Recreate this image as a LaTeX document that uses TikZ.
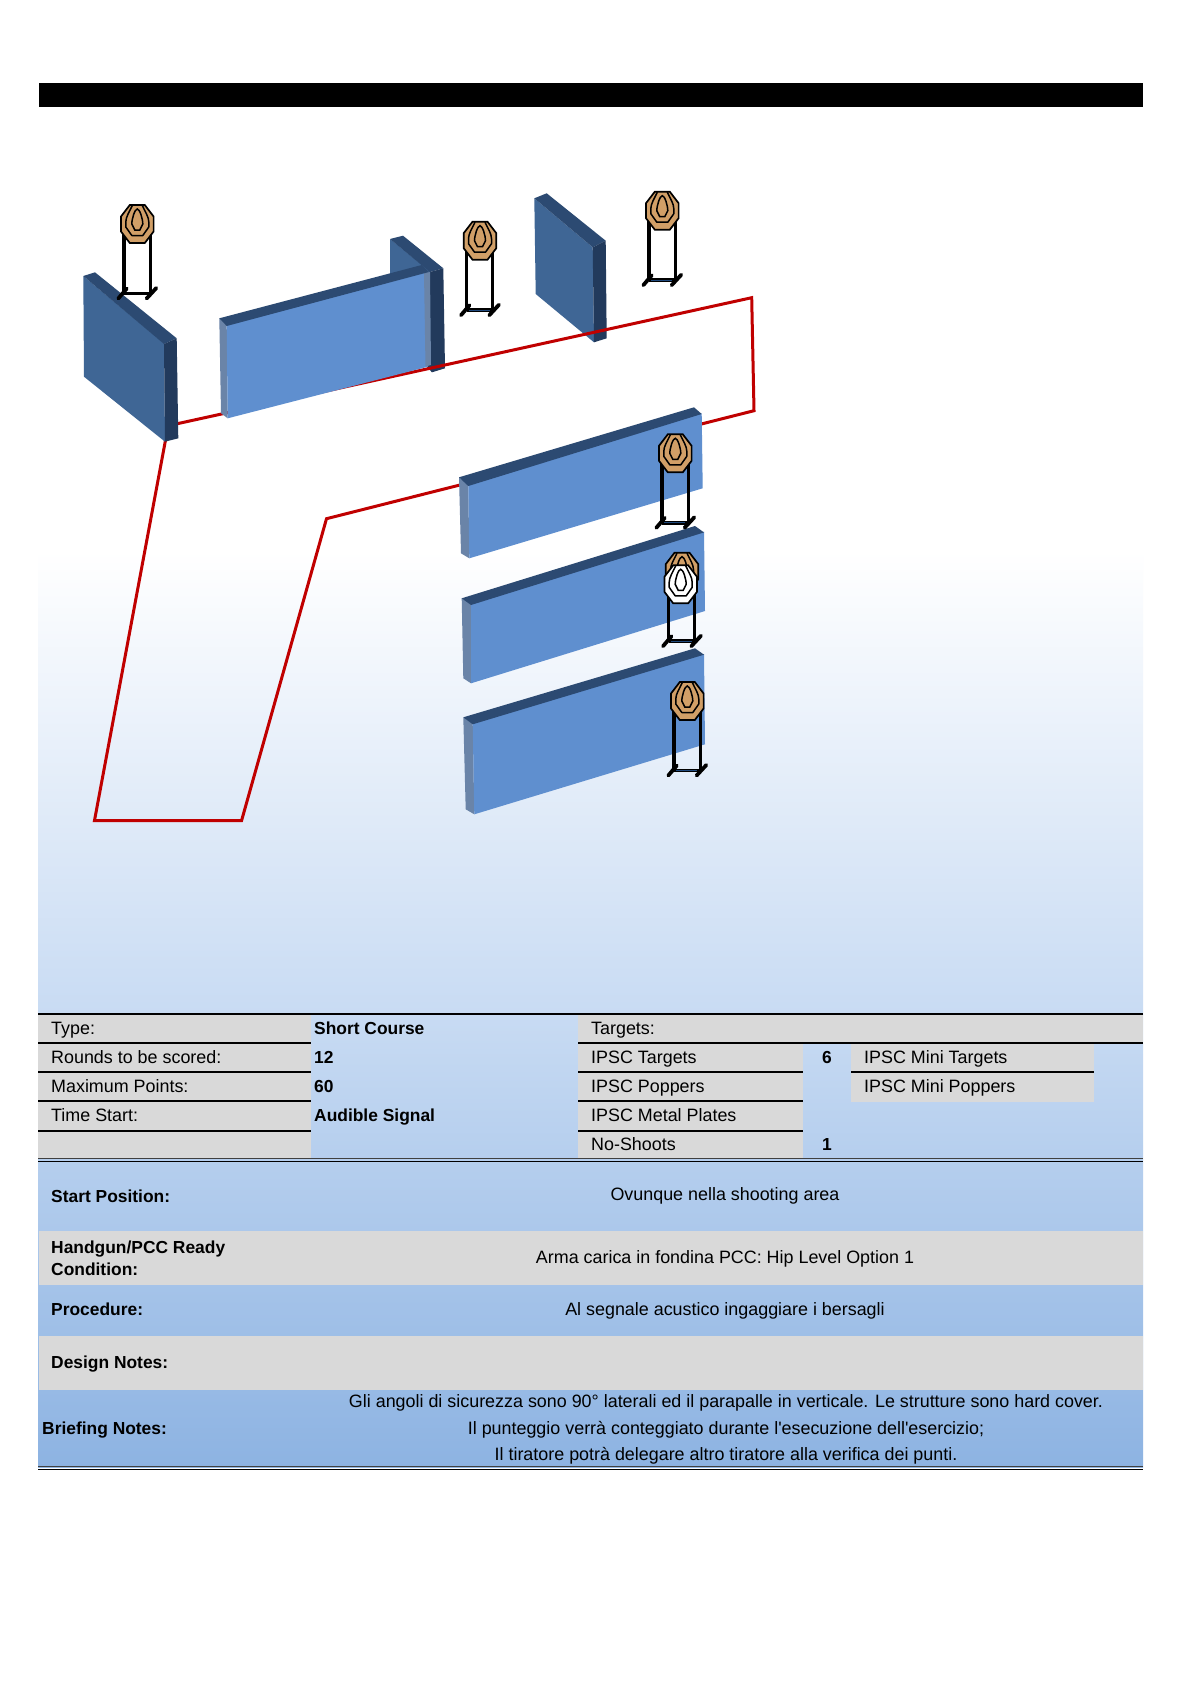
\documentclass[tikz,border=0pt]{standalone}
\usepackage{fontspec}
\setmainfont{Liberation Sans}
\definecolor{gradmid}{HTML}{C8DBF3}
\definecolor{gradend}{HTML}{8DB3E2}
\definecolor{rowgrey}{HTML}{D9D9D9}
\definecolor{faceL}{HTML}{5F8FCF}
\definecolor{faceD}{HTML}{3F6695}
\definecolor{wtop}{HTML}{2C4A72}
\definecolor{wside}{HTML}{223A5C}
\definecolor{wleft}{HTML}{6A84A8}
\definecolor{tbrown}{HTML}{D19F67}
\definecolor{redline}{HTML}{C00000}
\definecolor{barblue}{HTML}{1F497D}
\tikzset{
  x=1pt,y=-1pt,
  lbl/.style={anchor=base west,inner sep=0pt,font=\fontsize{17.9}{20}\selectfont},
  lblb/.style={lbl,font=\fontsize{17.4}{20}\selectfont\bfseries},
  ctr/.style={anchor=base,inner sep=0pt,font=\fontsize{17.9}{20}\selectfont},
  ctrb/.style={ctr,font=\fontsize{17.4}{20}\selectfont\bfseries},
  rule/.style={draw=black,line width=2pt},
  redpath/.style={draw=redline,line width=3pt,line join=miter},
  pics/head/.style={code={
    \draw[fill=#1,draw=black,line width=1.7pt,line join=miter]
      (-7.5,-19)--(7.5,-19)--(16.3,-7.5)--(16.3,7.5)--(7.5,19)--(-7.5,19)--(-16.3,7.5)--(-16.3,-7.5)--cycle;
    \draw[black,line width=1.5pt,line join=round]
      (-5,-18.5) .. controls (-8,-12) and (-11.5,-7) .. (-11.5,-2) -- (-11.5,3) -- (-5.5,11.5) -- (5.5,11.5) -- (11.5,3) -- (11.5,-2) .. controls (11.5,-7) and (8,-12) .. (5,-18.5);
    \draw[black,line width=1.5pt]
      (0,-15) .. controls (-2.5,-15) and (-5.5,-5) .. (-5.5,0) -- (-2.5,6) -- (2.5,6) -- (5.5,0) .. controls (5.5,-5) and (2.5,-15) .. (0,-15) -- cycle;
  }},
  pics/stand/.style={code={
    \draw[black,line width=3.2pt] (-13.3,5) -- (-13.3,70);
    \draw[black,line width=3.2pt] (12.8,5) -- (12.8,70);
    \draw[black,line width=3.6pt] (-13.3,69.5) -- (12.8,69.5);
    \draw[#1,line width=0.7pt] (-11,69.5) -- (10,69.5);
    \draw[black,line width=3.8pt,line cap=round] (-19,74.5) -- (-10.5,64.5);
    \draw[black,line width=3.8pt,line cap=round] (9.3,74.5) -- (19,64);
  }}
}
\begin{document}
\begin{tikzpicture}
\useasboundingbox (0,0) rectangle (1190,1684);
\fill[white] (0,0) rectangle (1190,1684);
% header bar
\fill[black] (39,83) rectangle (1143,106.5);
% background gradient
\shade[top color=white,bottom color=gradmid,shading angle=0] (38,550) rectangle (1143,1014);
\shade[top color=gradmid,bottom color=gradend,shading angle=0] (38,1014) rectangle (1143,1467);

% walls behind the red line
\fill[faceD] (390,239) -- (431,272) -- (431,295) -- (390,305) -- cycle;
\fill[wtop] (390,239) -- (403,235.7) -- (443.3,268.3) -- (430,272) -- cycle;
\fill[wside] (430,272) -- (443.3,268.3) -- (445,368.3) -- (432,372.3) -- (426,366) -- (426,272) -- cycle;

\fill[faceD] (534.3,198.3) -- (592.7,247.3) -- (594,342.3) -- (535.7,294) -- cycle;
\fill[wtop] (534.3,198.3) -- (546.7,193.3) -- (605.7,240.7) -- (592.7,247.3) -- cycle;
\fill[wside] (592.7,247.3) -- (605.7,240.7) -- (606.7,338.3) -- (594,342.3) -- cycle;

% red outline
\path[redpath] (168.2,425.7) -- (751.7,297.7) -- (754,410.7) -- (326.5,518.7) -- (241.6,820.5) -- (94.5,820.5) -- cycle;

% wall A
\fill[faceD] (83.3,276) -- (164,343.3) -- (165,441.7) -- (84,376.7) -- cycle;
\fill[wtop] (83.3,276) -- (95,272.3) -- (176.7,338.3) -- (164,344) -- cycle;
\fill[wside] (164,344) -- (176.7,338.3) -- (178.3,438.3) -- (165,441.7) -- cycle;
% wall B
\fill[wleft] (219.3,318.3) -- (226.7,325) -- (227.7,418.3) -- (221,413.3) -- cycle;
\fill[faceL] (226.7,325) -- (426.7,271.7) -- (428,366.7) -- (227.7,418.3) -- cycle;
\fill[wleft] (424,272.5) -- (430,272) -- (431,365) -- (425.5,366.5) -- cycle;
\fill[wtop] (219.3,318.3) -- (421.7,265) -- (429,272) -- (226.7,326) -- cycle;
% wall E
\fill[wleft] (459,477.3) -- (468.3,485) -- (469.3,558.3) -- (461,553.3) -- cycle;
\fill[faceL] (468.3,485) -- (701.7,413.3) -- (702.7,488.3) -- (469.3,558.3) -- cycle;
\fill[wtop] (459,477.3) -- (694,407.3) -- (701.7,414) -- (468.3,486) -- cycle;
% wall F
\fill[wleft] (461.7,598.3) -- (471,604) -- (471,683.3) -- (463.3,678.3) -- cycle;
\fill[faceL] (471,604) -- (704,531.7) -- (705,611) -- (471,683.3) -- cycle;
\fill[wtop] (461.7,598.3) -- (695,526) -- (704,532.4) -- (471,605) -- cycle;
% wall G
\fill[wleft] (463.3,717.3) -- (472.7,723.3) -- (474.3,814.3) -- (465.7,809.3) -- cycle;
\fill[faceL] (472.7,723.3) -- (704,654) -- (705,744.3) -- (474.3,814.3) -- cycle;
\fill[wtop] (463.3,717.3) -- (695,648.3) -- (704,654.7) -- (472.7,724.3) -- cycle;

% targets
\pic at (137.3,224) {stand=black};
\pic at (137.3,224) {head=tbrown};
\pic at (480,240.7) {stand=barblue};
\pic at (480,240.7) {head=tbrown};
\pic at (662.3,210.7) {stand=barblue};
\pic at (662.3,210.7) {head=tbrown};
\pic at (675.3,453.3) {stand=barblue};
\pic at (675.3,453.3) {head=tbrown};
\pic at (682,571.7) {stand=barblue};
\pic at (682,571.7) {head=tbrown};
\pic at (680.7,584.3) {head=white};
\pic at (687.3,701) {stand=barblue};
\pic at (687.3,701) {head=tbrown};

% grey table cells
\fill[rowgrey] (38,1014) rectangle (310.5,1158);
\fill[rowgrey] (578,1014) rectangle (1143,1043);
\fill[rowgrey] (578,1043) rectangle (803,1158);
\fill[rowgrey] (851,1043) rectangle (1094,1102);
\fill[rowgrey] (39,1231) rectangle (1143,1285);
\fill[rowgrey] (39,1336) rectangle (1143,1390);

% rules
\draw[rule,line width=1.7pt] (38,1014) -- (1143,1014);
\draw[rule] (38,1043) -- (310.5,1043);
\draw[rule] (38,1072) -- (310.5,1072);
\draw[rule] (38,1101) -- (310.5,1101);
\draw[rule] (38,1131) -- (310.5,1131);
\draw[rule] (578,1043) -- (1143,1043);
\draw[rule] (578,1072) -- (803,1072);
\draw[rule] (578,1101) -- (803,1101);
\draw[rule] (578,1131) -- (803,1131);
\draw[rule] (851,1072) -- (1094,1072);
\draw[rule,line width=1.6pt,draw=black!75] (38,1158.5) -- (1143,1158.5);
\draw[rule,line width=1.8pt] (38,1161.5) -- (1143,1161.5);
\draw[rule,line width=1.6pt,draw=black!75] (38,1466.5) -- (1143,1466.5);
\draw[rule,line width=1.8pt] (38,1469.5) -- (1143,1469.5);

% table text
\node[lbl] (t1) at (51,1034) {Type:};
\node[lbl] (t2) at (51,1063) {Rounds to be scored:};
\node[lbl] (t3) at (51,1092) {Maximum Points:};
\node[lbl] (t4) at (51,1121) {Time Start:};
\node[lblb] (v1) at (314,1034) {Short Course};
\node[lblb] (v2) at (314,1063) {12};
\node[lblb] (v3) at (314,1092) {60};
\node[lblb] (v4) at (314,1121) {Audible Signal};
\node[lbl] (g0) at (591,1034) {Targets:};
\node[lbl] (g1) at (591,1063) {IPSC Targets};
\node[lbl] (g2) at (591,1092) {IPSC Poppers};
\node[lbl] (g3) at (591,1121) {IPSC Metal Plates};
\node[lbl] (g4) at (591,1150) {No-Shoots};
\node[ctrb] (n1) at (827,1063) {6};
\node[ctrb] (n2) at (827,1150) {1};
\node[lbl] (m1) at (864,1063) {IPSC Mini Targets};
\node[lbl] (m2) at (864,1092) {IPSC Mini Poppers};

\node[lblb] (s1) at (51,1202) {Start Position:};
\node[ctr] (s2) at (725,1200) {Ovunque nella shooting area};
\node[lblb] (h1) at (51,1253) {Handgun/PCC Ready};
\node[lblb] (h2) at (51,1275.5) {Condition:};
\node[ctr] (h3) at (725,1263) {Arma carica in fondina PCC: Hip Level Option 1};
\node[lblb] (p1) at (51,1315) {Procedure:};
\node[ctr] (p2) at (725,1315) {Al segnale acustico ingaggiare i bersagli};
\node[lblb] (d1) at (51,1368) {Design Notes:};
\node[lblb] (b1) at (42,1434) {Briefing Notes:};
\node[ctr] (b2) at (726,1407) {Gli angoli di sicurezza sono 90° laterali ed il parapalle in verticale. Le strutture sono hard cover.};
\node[ctr] (b3) at (726,1434) {Il punteggio verrà conteggiato durante l\textquotesingle esecuzione dell\textquotesingle esercizio;};
\node[ctr] (b4) at (726,1460) {Il tiratore potrà delegare altro tiratore alla verifica dei punti.};
\end{tikzpicture}
\end{document}
